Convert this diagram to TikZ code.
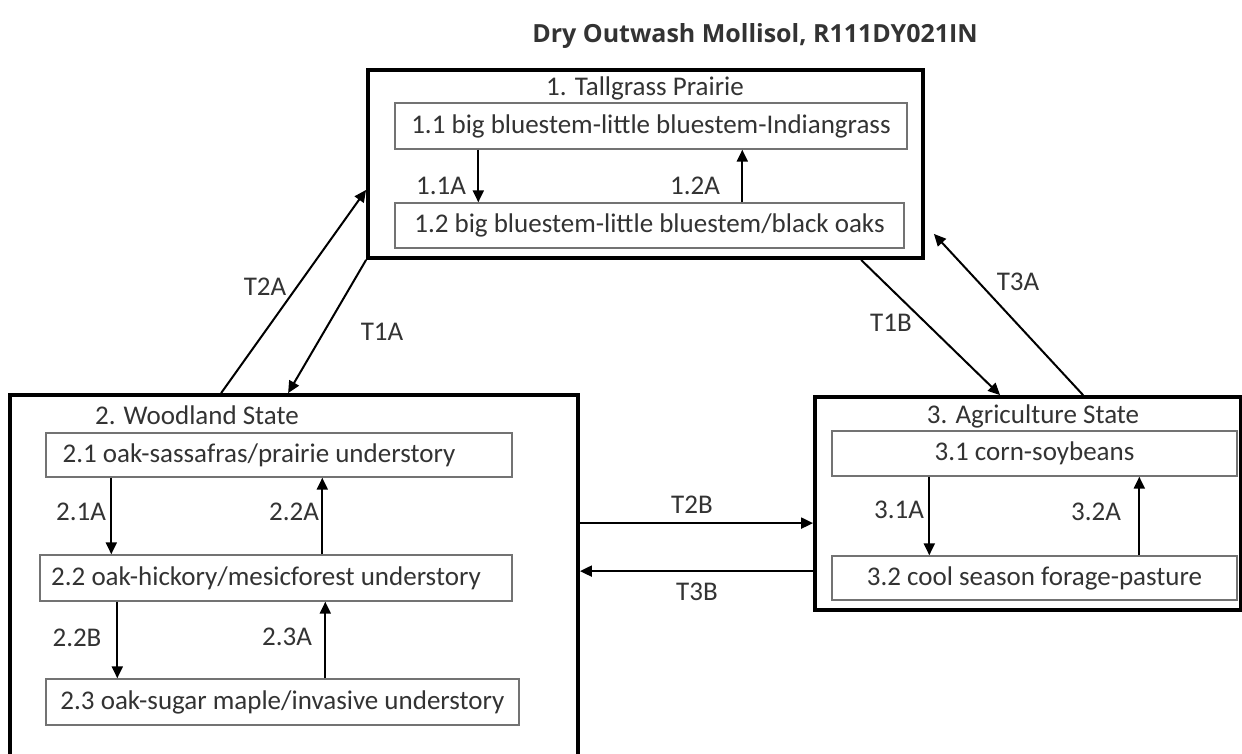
\documentclass[tikz,border=0pt]{standalone}
\usepackage{fontspec}
\setmainfont{Carlito}
\newfontfamily\headfont{Open Sans}
\usetikzlibrary{arrows.meta}

\begin{document}
\begin{tikzpicture}[x=1pt,y=-1pt,
	every node/.style={font=\fontsize{27}{32}\selectfont,text=black!80},
	state/.style={draw=black,line width=3.8pt},
	phase/.style={draw=black!55,line width=1.4pt,inner sep=0pt},
	flow/.style={line width=2pt,-{Triangle[length=12pt,width=11pt]}}]
	\clip (0,0) rectangle (1242,753);
	\fill[white] (0,0) rectangle (1242,753);
	
	\node (title) at (755,36) {\headfont\fontsize{25}{30}\selectfont\bfseries Dry Outwash Mollisol, R111DY021IN};
	
	% states
	\node[state,minimum width=555pt,minimum height=188pt] (prairie) at (645.5,164) {};
	\node[state,minimum width=568pt,minimum height=420pt] (wood) at (294,605) {};
	\node[state,minimum width=426pt,minimum height=213pt] (agri) at (1028,503.5) {};
	
	\node (prairiet) at (645,88) {1. Tallgrass Prairie};
	\node (woodt) at (197,415) {2. Woodland State};
	\node (agrit) at (1033,416) {3. Agriculture State};
	
	% phases
	\node[phase,minimum width=512pt,minimum height=46pt] (s11) at (651,126) {1.1 big bluestem-little bluestem-Indiangrass};
	\node[phase,minimum width=509pt,minimum height=45pt] (s12) at (649.5,225.5) {1.2 big bluestem-little bluestem/black oaks};
	\node[phase,minimum width=466pt,minimum height=44pt] (s21) at (279,455) {2.1 oak-sassafras/prairie understory\hspace*{40pt}};
	\node[phase,minimum width=472pt,minimum height=46pt] (s22) at (276,578) {2.2 oak-hickory/mesicforest understory\hspace*{20pt}};
	\node[phase,minimum width=473pt,minimum height=46pt] (s23) at (282.5,702) {2.3 oak-sugar maple/invasive understory};
	\node[phase,minimum width=405pt,minimum height=45pt] (s31) at (1034.5,453.5) {3.1 corn-soybeans};
	\node[phase,minimum width=405pt,minimum height=44pt] (s32) at (1034.5,578) {3.2 cool season forage-pasture};
	
	\draw[flow] ([xshift=84pt]s11.south west) -- ([xshift=84pt]s11.south west |- s12.north);
	\draw[flow] ([xshift=348pt]s12.north west) -- ([xshift=348pt]s12.north west |- s11.south);
	\draw[flow] ([xshift=66pt]s21.south west) -- ([xshift=66pt]s21.south west |- s22.north);
	\draw[flow] ([xshift=283pt]s22.north west) -- ([xshift=283pt]s22.north west |- s21.south);
	\draw[flow] ([xshift=78pt]s22.south west) -- ([xshift=78pt]s22.south west |- s23.north);
	\draw[flow] ([xshift=280pt]s23.north west) -- ([xshift=280pt]s23.north west |- s22.south);
	\draw[flow] ([xshift=98pt]s31.south west) -- ([xshift=98pt]s31.south west |- s32.north);
	\draw[flow] ([xshift=308pt]s32.north west) -- ([xshift=308pt]s32.north west |- s31.south);
	
	\node (l11) at (441,186) {1.1A};
	\node (l12) at (695,186) {1.2A};
	\node (l21) at (81,512) {2.1A};
	\node (l22) at (294,512) {2.2A};
	\node (l22b) at (77,638) {2.2B};
	\node (l23) at (287,637) {2.3A};
	\node (l31) at (899,510) {3.1A};
	\node (l32) at (1096,512) {3.2A};
	
	% transitions
	\draw[flow] ([xshift=213pt]wood.north west) -- ([yshift=70pt]prairie.south west);
	\draw[flow] (prairie.south west) -- ([xshift=280pt]wood.north west);
	\draw[flow] ([xshift=495pt]prairie.south west) -- ([xshift=187pt]agri.north west);
	\draw[flow] ([xshift=270pt]agri.north west) -- ([xshift=9pt,yshift=26pt]prairie.south east);
	\draw[flow] ([yshift=-128pt]wood.north east |- agri.north) -- ([yshift=-128pt]agri.north west);
	\draw[flow] ([yshift=-176pt]agri.north west) -- ([yshift=-176pt]wood.north east |- agri.north);
	
	\node (t2a) at (265,287) {T2A};
	\node (t1a) at (382,332) {T1A};
	\node (t1b) at (891,323) {T1B};
	\node (t3a) at (1018,282) {T3A};
	\node (t2b) at (692,505) {T2B};
	\node (t3b) at (697,592) {T3B};
\end{tikzpicture}
\end{document}
